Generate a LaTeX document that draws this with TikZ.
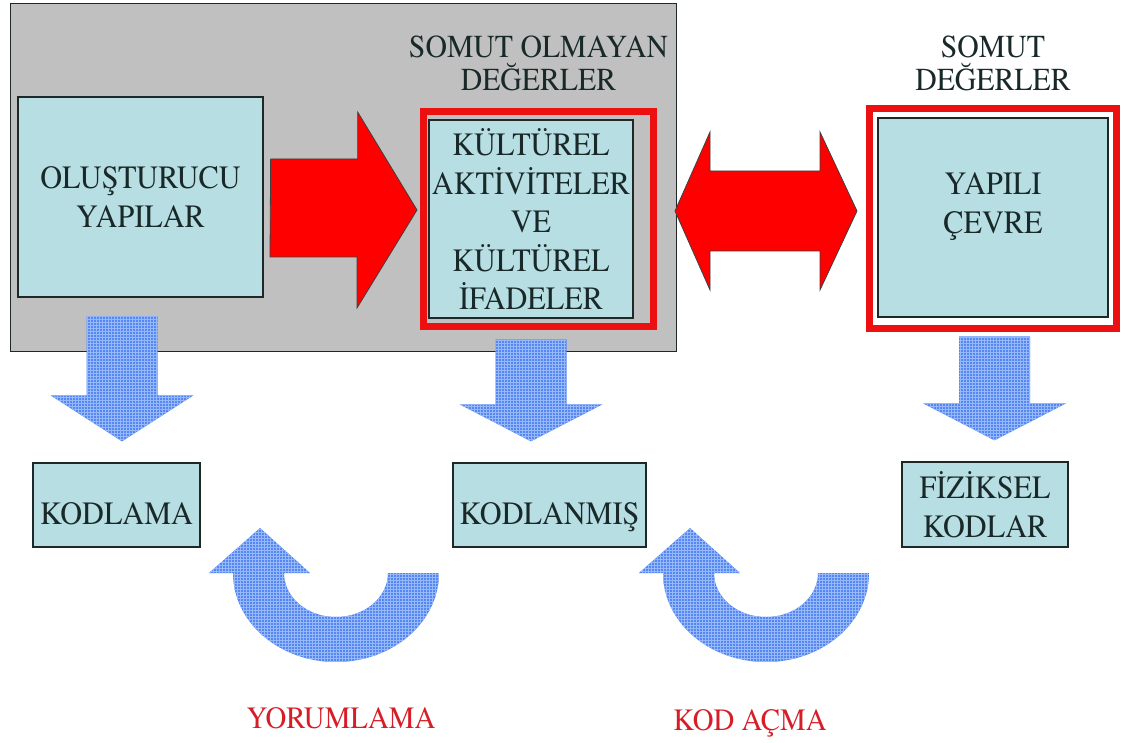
\documentclass[tikz,border=0pt]{standalone}
\usepackage{fontspec}
\setmainfont{texgyretermes}[
  Extension=.otf,
  UprightFont=*-regular,
  BoldFont=*-bold,
  ItalicFont=*-italic,
  BoldItalicFont=*-bolditalic,
  FakeStretch=0.93
]
\usepackage{tikz}
\usetikzlibrary{
  positioning,
  patterns,
  calc
}
\definecolor{panelgray}{RGB}{192,192,192}
\definecolor{boxcyan}{RGB}{183,222,227}
\definecolor{boxline}{RGB}{30,40,40}
\definecolor{boxtext}{RGB}{25,40,40}
\definecolor{arrowred}{RGB}{255,0,0}
\definecolor{framered}{RGB}{236,16,16}
\definecolor{codeblue}{RGB}{86,134,244}
\definecolor{gridblue}{RGB}{150,185,250}
\definecolor{labelred}{RGB}{215,30,40}

\begin{document}
\begin{tikzpicture}[
  x=1pt, y=1pt,
  every node/.style={text=boxtext},
  box/.style={
    rectangle, draw=boxline, line width=1.3pt, fill=boxcyan,
    align=center, inner sep=0pt,
    font=\fontsize{32.5}{38.5}\selectfont
  },
  oneline/.style={text height=38pt, text depth=0pt},
  redframe/.style={rectangle, draw=framered, line width=7pt, inner sep=0pt},
  panel/.style={rectangle, draw=boxline, line width=1pt, fill=panelgray, inner sep=0pt},
  heading/.style={align=center, inner sep=0pt, font=\fontsize{32}{33}\selectfont},
  redarr/.style={fill=arrowred, draw=black!75, line width=0.8pt, line join=miter},
  bluearr/.style={fill=codeblue, postaction={pattern=grid, pattern color=gridblue}},
  looplabel/.style={font=\fontsize{31}{36}\selectfont, text=labelred}
]
  \useasboundingbox (0,0) rectangle (1121,742);
  \fill[white] (0,0) rectangle (1121,742);

  % Intangible values panel
  \node[panel, minimum width=666pt, minimum height=348pt] (panel) at (343,564) {};

  % Red frames
  \node[redframe, minimum width=230pt, minimum height=215pt] (midframe) at (538.5,523) {};
  \node[redframe, minimum width=247pt, minimum height=220pt] (rframe) at (993,523.5) {};

  % Upper boxes
  \node[box, minimum width=245pt, minimum height=200pt] (olus) at (140.5,545) {OLUŞTURUCU\\YAPILAR};
  \node[box, minimum width=204pt, minimum height=198pt] (kultur) at (531,523)
      {KÜLTÜREL\\AKTİVİTELER\\VE\\KÜLTÜREL\\İFADELER};
  \node[box, minimum width=230pt, minimum height=199pt] (cevre) at (993,524.5) {};
  \node[heading, font=\fontsize{32.5}{39}\selectfont] (cevretext) at ([yshift=11pt]cevre.center) {YAPILI\\ÇEVRE};

  % Titles
  \node[heading, above=17pt of midframe] (nmtitle) {SOMUT OLMAYAN\\DEĞERLER};
  \node[heading, above=14pt of rframe] (mtitle) {SOMUT\\DEĞERLER};

  % Code boxes
  \node[box, oneline, minimum width=167pt, minimum height=84pt] (kodlama) at (116.5,237) {KODLAMA};
  \node[box, oneline, minimum width=193pt, minimum height=84pt] (kodlanmis) at (549.5,237) {KODLANMIŞ};
  \node[box, minimum width=166pt, minimum height=85pt] (fiziksel) at (985,237.5) {FİZİKSEL\\KODLAR};

  % Red arrows
  \coordinate (a1) at ([xshift=7pt,yshift=-11pt]olus.east);
  \coordinate (a2) at ([xshift=-3pt,yshift=9pt]midframe.west);
  \draw[redarr] ([yshift=49pt]a1) -- ++(87,0) -- ++(0,47) -- (a2) -- ++(-60,-98)
      -- ++(0,51) -- ++(-87,0) -- cycle;

  \coordinate (d1) at ([xshift=18pt,yshift=8pt]midframe.east);
  \coordinate (d2) at ([xshift=-9pt,yshift=7.5pt]rframe.west);
  \draw[redarr] (d1) -- ++(35,79) -- ++(0,-39) -- ++(110,0) -- ++(0,39) -- (d2)
      -- ++(-37,-79) -- ++(0,39) -- ++(-110,0) -- ++(0,-39) -- cycle;

  % Blue down arrows
  \foreach \dst/\dx/\len/\head in {kodlama/5.5/125/46, kodlanmis/-18.5/102/37, fiziksel/9.5/104/37} {
    \fill[bluearr] ([xshift=\dx pt, yshift=21pt]\dst.north) -- ++(-71.5,\head) -- ++(36,0)
        -- ++(0,\len-\head) -- ++(71,0) -- ++(0,\head-\len) -- ++(36,0) -- cycle;
  }

  % Curved arrows
  \foreach \cx in {336,766} {
    \fill[bluearr] (\cx+103,169) arc[start angle=0, end angle=-180, x radius=103, y radius=89]
        -- (\cx-127,169) -- (\cx-76,214) -- (\cx-26,169) -- (\cx-52,169)
        arc[start angle=180, end angle=360, x radius=52, y radius=44] -- cycle;
  }

  % Loop labels
  \node[looplabel, anchor=base] (yorum) at (341,14) {YORUMLAMA};
  \node[looplabel, anchor=base] (kodac) at (750,12) {KOD AÇMA};
\end{tikzpicture}
\end{document}
